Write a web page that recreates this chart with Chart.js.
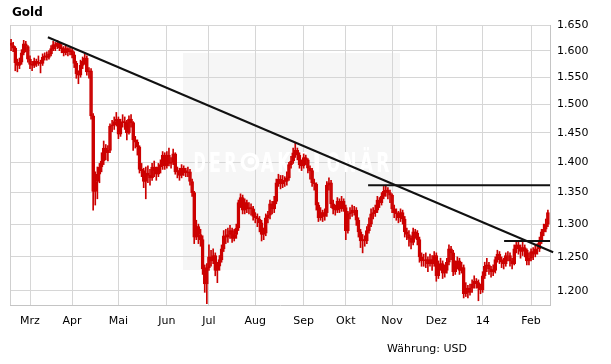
<!DOCTYPE html>
<html lang="de">
<head>
<meta charset="utf-8">
<title>Gold</title>
<script src="https://cdn.jsdelivr.net/npm/chart.js@4.4.1/dist/chart.umd.min.js"></script>
<style>
  body { margin: 0; background: #fff; }
  #wrap { position: relative; width: 611px; height: 364px; font-family: "DejaVu Sans", Verdana, sans-serif; color: #000; }
  #chart { position: absolute; left: 0; top: 0; }
  #title { position: absolute; left: 12px; top: 6px; font-size: 12px; line-height: 12px; font-weight: bold; }
  #currency { position: absolute; left: 387px; top: 343px; font-size: 11px; line-height: 11px; }
</style>
</head>
<body>
<div id="wrap">
  <canvas id="chart" width="611" height="364"></canvas>
  <div id="title">Gold</div>
  <div id="currency">Währung: USD</div>
</div>
<script>
// month labels and the trading-day index where each month starts
const monthLabels = ['Mrz', 'Apr', 'Mai', 'Jun', 'Jul', 'Aug', 'Sep', 'Okt', 'Nov', 'Dez', '14', 'Feb'];
const monthStart = [9, 29, 51, 74, 94, 116, 139, 159, 181, 202, 224, 247];

const yTicks = [1200, 1250, 1300, 1350, 1400, 1450, 1500, 1550, 1600, 1650];

// daily prices (USD)
const open = [
  1614,1610,1605,1577,1572,1578,1596,1613,1608,1584,
  1574,1572,1580,1576,1578,1576,1588,1590,1587,1594,
  1604,1612,1608,1614,1606,1604,1596,1604,1598,1600,
  1592,1576,1556,1554,1572,1580,1586,1560,1562,1480,
  1352,1368,1380,1392,1402,1424,1416,1420,1462,1464,
  1470,1474,1448,1468,1470,1468,1450,1474,1468,1438,
  1434,1426,1388,1386,1368,1382,1378,1374,1392,1386,
  1380,1392,1396,1412,1394,1412,1398,1400,1414,1384,
  1386,1378,1390,1386,1382,1384,1368,1350,1280,1296,
  1284,1276,1232,1210,1234,1250,1244,1252,1230,1236,
  1246,1262,1282,1280,1284,1290,1278,1284,1294,1334,
  1342,1322,1334,1324,1326,1324,1312,1310,1308,1302,
  1284,1286,1310,1314,1332,1324,1336,1366,1372,1364,
  1370,1368,1374,1396,1402,1416,1420,1412,1396,1394,
  1408,1404,1390,1386,1366,1364,1330,1310,1318,1312,
  1318,1362,1366,1332,1324,1322,1336,1324,1336,1326,
  1290,1316,1318,1322,1322,1306,1288,1274,1276,1274,
  1290,1300,1316,1318,1322,1338,1334,1344,1352,1354,
  1350,1346,1324,1318,1316,1310,1318,1308,1288,1284,
  1278,1272,1288,1286,1276,1250,1244,1244,1246,1240,
  1246,1240,1252,1222,1238,1240,1226,1230,1242,1262,
  1256,1228,1236,1244,1230,1234,1196,1204,1198,1204,
  1210,1214,1212,1204,1202,1222,1236,1238,1232,1228,
  1230,1246,1254,1246,1242,1240,1252,1252,1244,1240,
  1262,1268,1264,1258,1264,1260,1244,1248,1258,1254,
  1262,1262,1274,1288,1292,1300
];
const high = [
  1622,1616,1608,1584,1586,1602,1620,1618,1610,1590,
  1580,1586,1584,1590,1582,1594,1596,1598,1600,1610,
  1618,1616,1620,1616,1612,1608,1610,1606,1606,1604,
  1598,1580,1562,1582,1588,1594,1590,1568,1566,1484,
  1384,1392,1398,1416,1436,1430,1428,1466,1472,1478,
  1486,1478,1474,1482,1478,1472,1480,1482,1470,1444,
  1438,1428,1398,1390,1392,1394,1388,1398,1402,1392,
  1398,1404,1418,1416,1418,1424,1408,1422,1416,1392,
  1390,1396,1394,1390,1392,1388,1372,1352,1306,1300,
  1292,1282,1238,1240,1268,1260,1262,1256,1242,1252,
  1268,1290,1292,1294,1298,1294,1292,1300,1338,1348,
  1346,1340,1338,1334,1332,1328,1318,1316,1312,1306,
  1294,1316,1320,1338,1336,1344,1372,1380,1378,1378,
  1376,1384,1400,1410,1424,1434,1424,1416,1404,1414,
  1412,1406,1394,1390,1372,1366,1334,1326,1322,1324,
  1368,1374,1370,1338,1330,1342,1340,1344,1340,1330,
  1320,1326,1330,1328,1326,1310,1292,1284,1282,1296,
  1310,1324,1326,1330,1344,1342,1350,1360,1362,1358,
  1354,1348,1330,1324,1320,1324,1322,1312,1294,1290,
  1282,1294,1292,1290,1280,1256,1254,1256,1250,1254,
  1252,1258,1256,1244,1248,1244,1238,1248,1268,1266,
  1260,1244,1250,1248,1242,1238,1212,1208,1210,1216,
  1222,1218,1216,1210,1228,1242,1248,1242,1236,1238,
  1250,1260,1258,1250,1248,1256,1258,1256,1248,1268,
  1274,1272,1268,1272,1268,1262,1256,1262,1264,1268,
  1270,1280,1292,1300,1308,1322
];
const low = [
  1600,1598,1562,1560,1566,1574,1592,1598,1578,1566,
  1562,1568,1570,1572,1558,1572,1582,1582,1584,1590,
  1600,1600,1604,1600,1596,1590,1592,1590,1592,1586,
  1568,1548,1538,1550,1566,1574,1554,1548,1474,1322,
  1330,1340,1366,1384,1396,1404,1402,1416,1452,1456,
  1462,1440,1444,1460,1456,1438,1448,1460,1420,1424,
  1412,1382,1376,1358,1340,1366,1362,1370,1376,1370,
  1376,1382,1388,1388,1390,1394,1390,1396,1380,1374,
  1370,1374,1378,1376,1376,1362,1344,1270,1276,1270,
  1266,1224,1198,1182,1230,1236,1240,1222,1212,1230,
  1242,1258,1270,1272,1278,1272,1274,1278,1290,1326,
  1316,1316,1318,1316,1314,1306,1302,1296,1288,1274,
  1276,1282,1302,1308,1316,1318,1332,1360,1356,1358,
  1360,1362,1370,1390,1398,1408,1404,1390,1386,1390,
  1396,1382,1372,1360,1354,1322,1304,1306,1304,1306,
  1312,1354,1326,1316,1314,1318,1318,1320,1320,1276,
  1286,1308,1312,1314,1298,1280,1264,1256,1266,1270,
  1286,1296,1308,1312,1318,1326,1330,1340,1344,1340,
  1334,1318,1310,1306,1302,1304,1300,1280,1276,1266,
  1262,1268,1278,1268,1242,1236,1236,1234,1228,1236,
  1230,1236,1214,1218,1230,1218,1220,1226,1238,1246,
  1222,1224,1232,1224,1226,1190,1192,1190,1194,1198,
  1204,1204,1186,1196,1198,1218,1228,1224,1220,1222,
  1226,1242,1240,1234,1232,1236,1244,1236,1232,1238,
  1256,1254,1248,1252,1250,1238,1238,1244,1246,1250,
  1254,1258,1270,1282,1288,1296
];
const close = [
  1610,1605,1577,1572,1578,1596,1613,1608,1584,1574,
  1572,1580,1576,1578,1576,1588,1590,1587,1594,1604,
  1612,1608,1614,1606,1604,1596,1604,1598,1600,1592,
  1576,1556,1554,1572,1580,1586,1560,1562,1480,1352,
  1368,1380,1392,1402,1424,1416,1420,1462,1464,1470,
  1474,1448,1468,1470,1468,1450,1474,1468,1438,1434,
  1426,1388,1386,1368,1382,1378,1374,1392,1386,1380,
  1392,1396,1412,1394,1412,1398,1400,1414,1384,1386,
  1378,1390,1386,1382,1384,1368,1350,1280,1296,1284,
  1276,1232,1210,1234,1250,1244,1252,1230,1236,1246,
  1262,1282,1280,1284,1290,1278,1284,1294,1334,1342,
  1322,1334,1324,1326,1324,1312,1310,1308,1302,1284,
  1286,1310,1314,1332,1324,1336,1366,1372,1364,1370,
  1368,1374,1396,1402,1416,1420,1412,1396,1394,1408,
  1404,1390,1386,1366,1364,1330,1310,1318,1312,1318,
  1362,1366,1332,1324,1322,1336,1324,1336,1326,1290,
  1316,1318,1322,1322,1306,1288,1274,1276,1274,1290,
  1300,1316,1318,1322,1338,1334,1344,1352,1354,1350,
  1346,1324,1318,1316,1310,1318,1308,1288,1284,1278,
  1272,1288,1286,1276,1250,1244,1244,1246,1240,1246,
  1240,1252,1222,1238,1240,1226,1230,1242,1262,1256,
  1228,1236,1244,1230,1234,1196,1204,1198,1204,1210,
  1214,1212,1204,1202,1222,1236,1238,1232,1228,1230,
  1246,1254,1246,1242,1240,1252,1252,1244,1240,1262,
  1268,1264,1258,1264,1260,1244,1248,1258,1254,1262,
  1262,1274,1288,1292,1300,1318
];

// hand-drawn trend lines: [day index, price]
const trendDown = [[17.5, 1626], [257.5, 1257]];
const resistance = [[169.6, 1362], [256, 1362]];
const support = [[234.2, 1274], [256, 1274]];

const red = '#cc0000';
const fontFamily = '"DejaVu Sans", Verdana, sans-serif';

function germanNumber(v) {
    return String(Math.round(v)).replace(/\B(?=(\d{3})+$)/g, '.');
}

function toPoints(pairs) {
    return pairs.map(p => ({ x: p[0], y: p[1] }));
}

// put each letter in its own equal cell between x0 and x1, squeezed to fit
function spacedText(ctx, text, x0, x1, y) {
    const chars = text.split('');
    const cell = (x1 - x0) / chars.length;
    chars.forEach((c, i) => {
        const w = ctx.measureText(c).width;
        const sx = Math.min(1, (cell * 0.8) / w);
        ctx.save();
        ctx.translate(x0 + cell * i + (cell - w * sx) / 2, y);
        ctx.scale(sx, 1);
        ctx.fillText(c, 0, 0);
        ctx.restore();
    });
}

// light box with the "DER AKTIONÄR" watermark
const watermark = {
    id: 'watermark',
    beforeDraw(chart) {
        const ctx = chart.ctx;
        ctx.save();
        ctx.fillStyle = '#f6f6f6';
        ctx.fillRect(183, 53, 217, 217);
        ctx.restore();
    },
    beforeDatasetsDraw(chart) {
        const { ctx, chartArea } = chart;
        ctx.save();
        // left frame line
        ctx.strokeStyle = '#cfcfcf';
        ctx.lineWidth = 1;
        ctx.beginPath();
        ctx.moveTo(chartArea.left + 0.5, chartArea.top);
        ctx.lineTo(chartArea.left + 0.5, chartArea.bottom);
        ctx.stroke();

        // watermark text sits on top of the grid
        ctx.fillStyle = '#ffffff';
        ctx.font = 'bold 27px "DejaVu Sans Condensed", "DejaVu Sans", sans-serif';
        ctx.textBaseline = 'alphabetic';
        spacedText(ctx, 'DER', 192, 238, 172);
        spacedText(ctx, 'AKTIONÄR', 259, 391, 172);
        ctx.beginPath();
        ctx.arc(250, 162, 9.5, 0, Math.PI * 2);
        ctx.fill();
        ctx.fillStyle = '#f1f1f1';
        ctx.beginPath();
        ctx.arc(250, 162, 6, 0, Math.PI * 2);
        ctx.fill();
        ctx.fillStyle = '#ffffff';
        ctx.beginPath();
        ctx.arc(251, 161, 3.5, 0, Math.PI * 2);
        ctx.fill();
        ctx.restore();
    }
};

const ctx = document.getElementById('chart').getContext('2d');

new Chart(ctx, {
    type: 'bar',
    data: {
        datasets: [
            {
                label: 'Hoch/Tief',
                data: high.map((h, i) => ({ x: i, y: [low[i], h] })),
                backgroundColor: red,
                barThickness: 1,
                grouped: false,
                order: 3
            },
            {
                label: 'Eröffnung/Schluss',
                data: close.map((c, i) => ({ x: i, y: [open[i], c] })),
                backgroundColor: 'rgba(255,255,255,0)',
                borderColor: red,
                borderWidth: 1,
                borderSkipped: false,
                barThickness: 3,
                grouped: false,
                order: 2
            },
            {
                type: 'line',
                label: 'Trend',
                data: toPoints(trendDown),
                borderColor: '#111',
                borderWidth: 2,
                pointRadius: 0,
                clip: 4,
                order: 1
            },
            {
                type: 'line',
                label: 'Widerstand',
                data: toPoints(resistance),
                borderColor: '#111',
                borderWidth: 2,
                pointRadius: 0,
                order: 1
            },
            {
                type: 'line',
                label: 'Unterstützung',
                data: toPoints(support),
                borderColor: '#111',
                borderWidth: 2,
                pointRadius: 0,
                order: 1
            }
        ]
    },
    options: {
        responsive: false,
        animation: false,
        devicePixelRatio: 1,
        layout: { padding: { left: 10, top: 25, right: 0, bottom: 0 } },
        plugins: {
            legend: { display: false },
            tooltip: { enabled: false }
        },
        scales: {
            x: {
                type: 'linear',
                min: -0.5,
                max: 256,
                offset: false,
                afterBuildTicks: scale => {
                    scale.ticks = monthStart.map(v => ({ value: v }));
                },
                afterFit: scale => { scale.height = 59; },
                grid: { color: '#d6d6d6', drawTicks: false, offset: false },
                border: { color: '#c4c4c4' },
                ticks: {
                    autoSkip: false,
                    maxRotation: 0,
                    padding: 10,
                    color: '#000',
                    font: { family: fontFamily, size: 11 },
                    callback: v => monthLabels[monthStart.indexOf(v)]
                }
            },
            y: {
                type: 'logarithmic',
                position: 'right',
                min: 1180,
                max: 1650,
                afterBuildTicks: scale => {
                    scale.ticks = yTicks.map(v => ({ value: v }));
                },
                afterFit: scale => { scale.width = 61; },
                grid: { color: '#d6d6d6', drawTicks: false },
                border: { color: '#c4c4c4' },
                ticks: {
                    padding: 7,
                    color: '#000',
                    font: { family: fontFamily, size: 11 },
                    callback: v => germanNumber(v)
                }
            }
        }
    },
    plugins: [watermark]
});
</script>
</body>
</html>
